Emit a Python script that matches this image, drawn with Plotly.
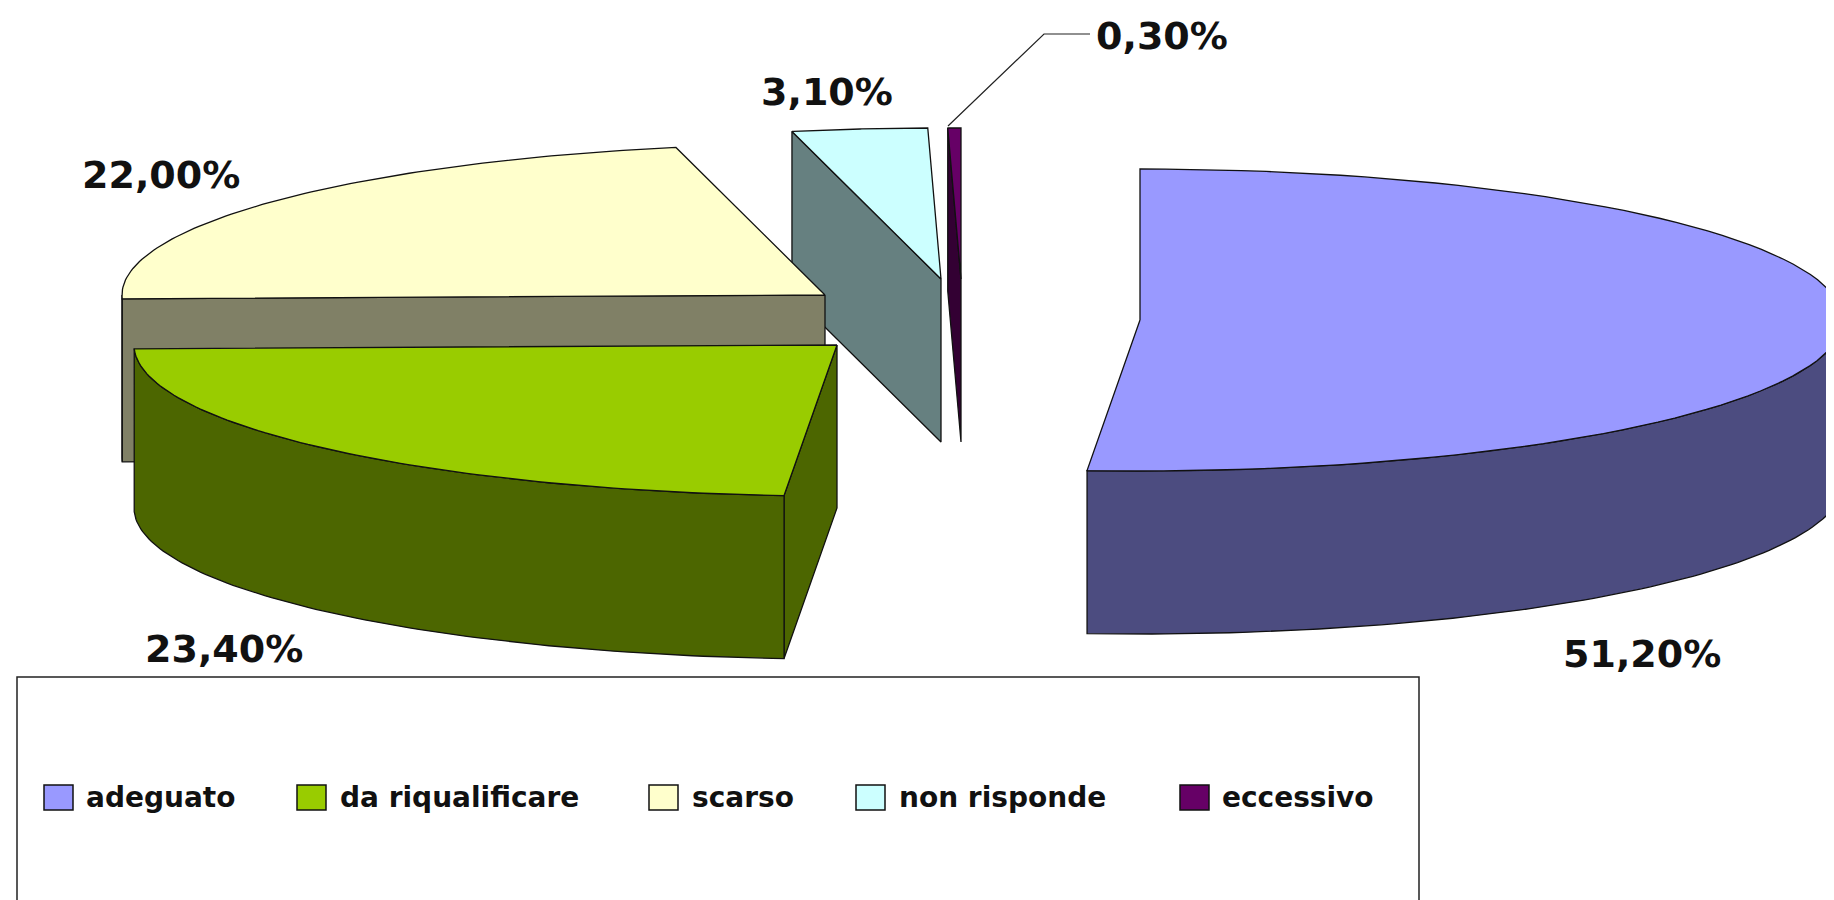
import numpy as np
import plotly.graph_objects as go

# data
categories = ['adeguato', 'da riqualificare', 'scarso', 'non risponde', 'eccessivo']
values = [51.2, 23.4, 22.0, 3.1, 0.3]

# colours
top_colors = ['#9999FF', '#99CC00', '#FFFFCC', '#CCFFFF', '#660066']
side_colors = ['#4C4C80', '#4C6600', '#808066', '#668080', '#330033']

# pixel geometry of the exploded pie, the axes run 1:1 with the page
W, H = 1834, 900
RX, RY, DEPTH = 703, 151, 163
apex = {
    'adeguato': (1132, 312),
    'da riqualificare': (829, 337),
    'scarso': (817, 287),
    'non risponde': (933, 271),
    'eccessivo': (953, 271),
}
LINE = dict(color='#111111', width=1.3)
FONT = 'DejaVu Sans'

fracs = np.cumsum([0] + values) / sum(values) * 2 * np.pi


def rim(cat, a, b, n=90):
    cx, cy = apex[cat]
    t = np.linspace(a, b, n)
    return cx + RX * np.sin(t), cy - RY * np.cos(t)


def poly(xs, ys, color, name):
    return go.Scatter(x=list(xs), y=list(ys), mode='lines', fill='toself', fillcolor=color,
                      line=LINE, name=name, hoverinfo='name', showlegend=False)


fig = go.Figure()

# back to front
for i in [3, 4, 2, 1, 0]:
    cat = categories[i]
    cx, cy = apex[cat]
    a, b = fracs[i], fracs[i + 1]
    # cut face along the starting edge
    if i > 0:
        ex, ey = rim(cat, a, a, 1)
        fig.add_trace(poly([cx, ex[0], ex[0], cx, cx], [cy, ey[0], ey[0] + DEPTH, cy + DEPTH, cy],
                           side_colors[i], cat))
    # outer wall, only the front half of the ellipse shows
    lo, hi = max(a, np.pi / 2), min(b, 3 * np.pi / 2)
    if lo < hi:
        wx, wy = rim(cat, lo, hi)
        fig.add_trace(poly(np.r_[wx, wx[::-1], wx[0]], np.r_[wy, wy[::-1] + DEPTH, wy[0]],
                           side_colors[i], cat))
    # top
    tx, ty = rim(cat, a, b)
    fig.add_trace(poly(np.r_[cx, tx, cx], np.r_[cy, ty, cy], top_colors[i], cat))

# leader line for the smallest slice
fig.add_trace(go.Scatter(x=[940, 1036, 1082], y=[118, 26, 26], mode='lines',
                         line=dict(color='#222222', width=1.2), hoverinfo='skip', showlegend=False))

# value labels
label_pos = [(1634, 646), (216, 641), (153, 167), (819, 84), (1154, 28)]
for v, (lx, ly) in zip(values, label_pos):
    fig.add_annotation(x=lx, y=ly, text=f'{v:.2f}%'.replace('.', ','), showarrow=False,
                       font=dict(family=FONT, size=38, color='#111111', weight='bold'))

# legend box
fig.add_shape(type='rect', x0=9, x1=1411, y0=669, y1=H + 20, line=dict(color='#222222', width=1.5),
              fillcolor='rgba(0,0,0,0)')
swatch_x = [36, 289, 641, 848, 1172]
text_x = [76, 330, 682, 889, 1212]
for cat, color, sx, tx in zip(categories, top_colors, swatch_x, text_x):
    fig.add_shape(type='rect', x0=sx, x1=sx + 29, y0=777, y1=802, fillcolor=color,
                  line=dict(color='#111111', width=1.5))
    fig.add_annotation(x=tx, y=789, text=cat, showarrow=False, xanchor='left',
                       font=dict(family=FONT, size=28, color='#111111', weight='bold'))

fig.update_xaxes(range=[0, W], visible=False, fixedrange=True)
fig.update_yaxes(range=[H, 0], visible=False, fixedrange=True)
fig.update_layout(width=W, height=H, margin=dict(l=0, r=0, t=0, b=0),
                  plot_bgcolor='white', paper_bgcolor='white', showlegend=False)

fig.write_html('out.html', config=dict(displayModeBar=False))
